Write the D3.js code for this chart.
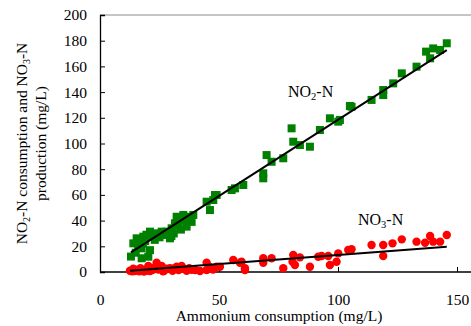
<!DOCTYPE html>
<html>
<head>
<meta charset="utf-8">
<script src="https://cdn.jsdelivr.net/npm/d3@7"></script>
<style>
  body { margin: 0; background: #fff; }
  text { font-family: "Liberation Serif", "Times New Roman", serif; fill: #000; }
</style>
</head>
<body>
<div class="chart"></div>
<script>
const svgWidth = 471;
const svgHeight = 326;

// plot box in pixels
const margin = { top: 15, right: 0, bottom: 54, left: 100 };

// data
const no2Ammonium = [13, 14, 15.4, 16, 17.5, 17.5, 18.2, 19, 20.3, 21, 21, 22, 23.8, 25, 25.9, 27, 28,
  29.4, 30.1, 31, 31.5, 32.2, 33.6, 34, 35, 36.4, 37.8, 39.2, 44.8, 46.2, 47.6, 48.3, 49,
  55.3, 56.7, 60.2, 68.6, 68.6, 70, 72.1, 77, 80.5, 81.2, 84, 88.2, 92.4, 96.6, 100.1, 100.8,
  105, 105.7, 114.1, 119, 119, 123.2, 126.8, 133, 137, 138.7, 140, 142.9, 145.7,
  15, 16.5, 18, 19.5, 23, 26.5, 30, 33, 36, 38.5];
const no2Values = [12, 22.3, 26.2, 20, 18.4, 10.7, 27.5, 24, 11.9, 17, 31.4, 28, 30.1, 27, 31.4, 29, 31.4,
  26.2, 34, 30, 37.9, 43, 40.5, 33, 44.4, 35.3, 43, 44.4, 54.7, 48.2, 56, 59.9, 59.9,
  63.8, 65.1, 67.7, 72.9, 76.8, 91, 85.8, 88.5, 111.8, 101.4, 98.8, 97.5, 110.5, 119.6, 117, 118.3,
  129.2, 128.6, 133.9, 137.7, 141.6, 146.8, 154.6, 159.8, 171.5, 166.3, 174, 172.8, 178,
  15, 24, 22, 29, 25, 29, 28, 36, 40, 39];

const no3Ammonium = [12.6, 13.5, 14.5, 15.4, 16.5, 17.5, 18.5, 19.5, 20.3, 21, 22, 23.8, 24.5, 25.9, 27, 28,
  29.4, 30.5, 32.2, 33, 34.3, 35, 36.4, 37.5, 38.5, 44.8, 44.8, 46, 47.5, 49, 50.4, 56, 58.8,
  59.5, 60.9, 60.9, 68.6, 68.6, 72.1, 77, 80.9, 81.2, 81.9, 84, 88.2, 91.7, 93.1, 95.9, 96.6,
  99.4, 100.1, 104.3, 105.7, 114.1, 119, 119, 122.9, 126.8, 133, 136.6, 138.7, 140, 142.9, 145.7,
  14, 17, 20, 23, 26.5, 31, 40, 42];
const no3Values = [1, 0.5, 0.8, 1.6, 0.5, 1.2, 0.3, 2, 4.7, 0.8, 1.5, 7.2, 2, 4.7, 1, 2.5,
  2.9, 1, 4.1, 1.5, 4.7, 2.5, 1, 3, 1.8, 7.2, 1.6, 4, 2, 4.1, 4.1, 9.3, 7.2,
  8, 1.6, 2.9, 10.7, 7.2, 10.7, 2.9, 8, 13.2, 5.4, 11.4, 4.1, 11.9, 12.4, 12.4, 5.4,
  8, 14.5, 17.1, 17.7, 21, 21, 12.4, 22.3, 25.4, 23.6, 22.8, 28, 23.6, 23.6, 28.8,
  2.5, 3, 1.2, 3.5, 0.6, 2.8, 1.5, 0.8];

// linear trend lines [slope, intercept]
const no2Trend = [1.186, -0.1];
const no3Trend = [0.14, -0.77];

const xTicks = [0, 50, 100, 150];
const yTicks = [0, 20, 40, 60, 80, 100, 120, 140, 160, 180, 200];

const svg = d3.select(".chart")
  .append("svg")
  .attr("width", svgWidth)
  .attr("height", svgHeight);

const xScale = d3.scaleLinear()
  .domain([0, 160])
  .range([margin.left, margin.left + 160 * (357 / 150)]);

const yScale = d3.scaleLinear()
  .domain([0, 200])
  .range([svgHeight - margin.bottom, margin.top]);

const x0 = xScale(0), y0 = yScale(0);

// top frame line
svg.append("line")
  .attr("x1", x0).attr("x2", svgWidth)
  .attr("y1", yScale(200)).attr("y2", yScale(200))
  .attr("stroke", "#8c8c8c").attr("stroke-width", 1);

// y axis
const yAxis = d3.axisLeft(yScale).tickValues(yTicks).tickSize(-5).tickPadding(13);
const yG = svg.append("g").attr("transform", `translate(${x0},0)`).call(yAxis);

// x axis
const xAxis = d3.axisBottom(xScale).tickValues(xTicks).tickSize(-5).tickPadding(22);
const xG = svg.append("g").attr("transform", `translate(0,${y0})`).call(xAxis);

[yG, xG].forEach(g => {
  g.select(".domain").attr("stroke", "#000").attr("stroke-width", 1.3);
  g.selectAll(".tick line").attr("stroke", "#000");
  g.selectAll(".tick text")
    .style("font-family", "'Liberation Serif', serif")
    .style("font-size", "15.5px")
    .attr("fill", "#000");
});
xG.select(".domain").attr("d", `M${x0},0H${svgWidth}`);

// markers
svg.append("g").selectAll("rect")
  .data(no2Ammonium)
  .enter()
  .append("rect")
  .attr("x", d => xScale(d) - 4)
  .attr("y", (d, i) => yScale(no2Values[i]) - 4)
  .attr("width", 8)
  .attr("height", 8)
  .attr("fill", "#008000");

svg.append("g").selectAll("circle")
  .data(no3Ammonium)
  .enter()
  .append("circle")
  .attr("cx", d => xScale(d))
  .attr("cy", (d, i) => yScale(no3Values[i]))
  .attr("r", 4.2)
  .attr("fill", "#ff0000");

// trend lines
function drawTrend(xs, coef) {
  const ext = d3.extent(xs);
  const line = d3.line()
    .x(d => xScale(d))
    .y(d => yScale(coef[0] * d + coef[1]));
  svg.append("path")
    .attr("d", line(ext))
    .attr("fill", "none")
    .attr("stroke", "#000")
    .attr("stroke-width", 2);
}
drawTrend(no2Ammonium, no2Trend);
drawTrend(no3Ammonium, no3Trend);

// series labels
function seriesLabel(x, y, sub) {
  const t = svg.append("text").attr("x", x).attr("y", y).style("font-size", "16px");
  t.append("tspan").text("NO");
  t.append("tspan").attr("font-size", "10.5px").attr("dy", 3).text(sub);
  t.append("tspan").attr("dy", -3).text("-N");
}
seriesLabel(288, 97, "2");
seriesLabel(358, 225, "3");

// axis titles
svg.append("text")
  .attr("x", 279)
  .attr("y", 321)
  .attr("text-anchor", "middle")
  .style("font-size", "15.5px")
  .text("Ammonium consumption (mg/L)");

const yTitle = svg.append("text")
  .attr("transform", `translate(0,${(yScale(0) + yScale(200)) / 2}) rotate(-90)`)
  .attr("text-anchor", "middle")
  .style("font-size", "15.5px");
const l1 = yTitle.append("tspan").attr("x", 0).attr("y", 27);
l1.append("tspan").text("NO");
l1.append("tspan").attr("font-size", "10px").attr("dy", 3).text("2");
l1.append("tspan").attr("dy", -3).text("-N consumption and NO");
l1.append("tspan").attr("font-size", "10px").attr("dy", 3).text("3");
l1.append("tspan").attr("dy", -3).text("-N");
yTitle.append("tspan").attr("x", 0).attr("y", 46).text("production (mg/L)");
</script>
</body>
</html>
